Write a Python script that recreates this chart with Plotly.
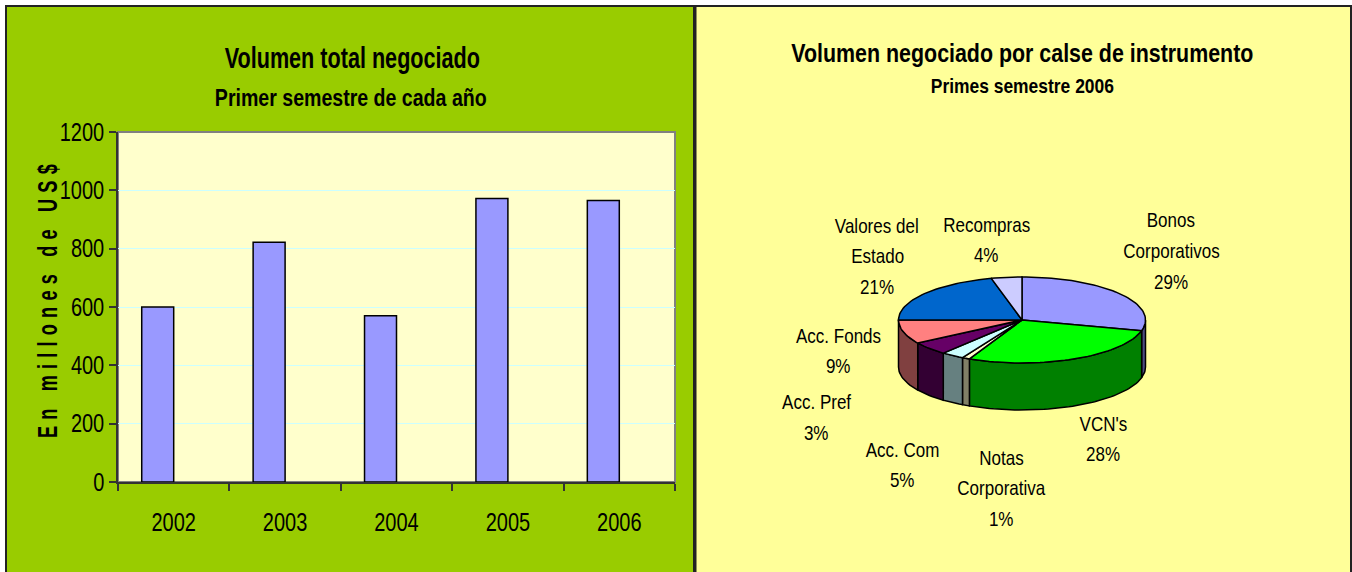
import math
import plotly.graph_objects as go

# ---- data ----
years = ["2002", "2003", "2004", "2005", "2006"]
volumes = [600, 822, 570, 972, 965]
y_ticks = [0, 200, 400, 600, 800, 1000, 1200]

slice_names = ["Bonos Corporativos", "VCN's", "Notas Corporativa", "Acc. Pref",
               "Acc. Com", "Acc. Fonds", "Valores del Estado", "Recompras"]
slice_shares = [29, 28, 1, 3, 5, 9, 21, 4]
slice_colors = ["#9999ff", "#00ff00", "#ffffcc", "#ccffff",
                "#660066", "#ff8080", "#0066cc", "#ccccff"]
side_colors = ["#4c4c80", "#008000", "#808066", "#668080",
               "#330033", "#804040", "#003366", "#666680"]
label_lines = [["Bonos", "Corporativos", "29%"], ["VCN's", "28%"],
               ["Notas", "Corporativa", "1%"], ["Acc. Pref", "3%"],
               ["Acc. Com", "5%"], ["Acc. Fonds", "9%"],
               ["Valores del", "Estado", "21%"], ["Recompras", "4%"]]

# ---- layout constants (pixels) ----
W, H = 1352, 572
FONT = "Liberation Sans, Arial, sans-serif"
label_pos = [(1171, [220, 250, 281]), (1103, [423, 453]), (1001, [457, 487, 518]),
             (816, [401, 432]), (902, [449, 479]), (838, [335, 365]),
             (877, [225, 255, 286]), (986, [224, 254])]
CX, CY, RX, RY, DEPTH = 1022, 320, 123.5, 43, 47


def px(x):
    return x / W


def py(y):
    return 1 - y / H


fig = go.Figure()
fig.add_trace(go.Bar(x=years, y=volumes, width=0.287, offset=-0.287,
                     marker=dict(color="#9999ff", line=dict(color="black", width=1.5)),
                     xaxis="x", yaxis="y", showlegend=False, hoverinfo="x+y"))


def pt(t, dy=0):
    a = math.radians(t)
    return CX + RX * math.sin(a), CY - RY * math.cos(a) + dy


def arc(a, b, dy=0):
    n = max(2, int(abs(b - a) / 2) + 2)
    return [pt(a + (b - a) * i / (n - 1), dy) for i in range(n)]


def poly(points, color):
    xs = [p[0] for p in points] + [points[0][0]]
    ys = [p[1] for p in points] + [points[0][1]]
    fig.add_trace(go.Scatter(x=xs, y=ys, mode="lines", fill="toself", fillcolor=color,
                             line=dict(color="black", width=1.5), xaxis="x2", yaxis="y2",
                             showlegend=False, hoverinfo="skip"))


total = sum(slice_shares)
start = 0.0
spans = []
for share in slice_shares:
    end = start + 360.0 * share / total
    spans.append((start, end))
    start = end

# visible front walls
for (a, b), col in zip(spans, side_colors):
    lo, hi = max(a, 90), min(b, 270)
    if hi > lo:
        poly(arc(lo, hi) + arc(hi, lo, DEPTH), col)
# top faces
for (a, b), col in zip(spans, slice_colors):
    poly([(CX, CY)] + arc(a, b), col)

shapes = [
    dict(type="rect", xref="paper", yref="paper", x0=px(6), x1=px(694), y0=py(H + 10), y1=py(6),
         fillcolor="#99cc00", line=dict(color="#222222", width=2), layer="below"),
    dict(type="rect", xref="paper", yref="paper", x0=px(695.5), x1=px(1351), y0=py(H + 10), y1=py(6),
         fillcolor="#ffff99", line=dict(color="#222222", width=2), layer="below"),
    dict(type="rect", xref="paper", yref="paper", x0=px(118), x1=px(675), y0=py(482), y1=py(132),
         fillcolor="#ffffcc", line=dict(color="#808080", width=2), layer="below"),
]


def text(s, x, y, size, bold=False, angle=0):
    return dict(text=s, xref="paper", yref="paper", textangle=angle,
                x=px(x), y=py(y), xanchor="center", yanchor="middle", showarrow=False,
                font=dict(family=FONT, size=size, color="black",
                          weight="bold" if bold else "normal"))


annotations = [
    text("Volumen total negociado", 352, 58, 29, True),
    text("Primer semestre de cada año", 351, 97, 24, True),
    text("Volumen negociado por calse de instrumento", 1023, 53, 25.5, True),
    text("Primes semestre 2006", 1023, 86, 21, True),
    text("En millones de US$", 47, 298, 28, True, -90),
]
for lines, (lx, ys) in zip(label_lines, label_pos):
    for line, ly in zip(lines, ys):
        annotations.append(text(line, lx, ly, 21))

fig.update_layout(
    width=W, height=H, margin=dict(l=0, r=0, t=0, b=0), autosize=False,
    paper_bgcolor="white", plot_bgcolor="rgba(0,0,0,0)",
    shapes=shapes, annotations=annotations, showlegend=False,
    xaxis=dict(domain=[px(118), px(675)], type="category", tickson="boundaries",
               automargin=False,
               ticks="outside", ticklen=7, tickcolor="#333333", tickwidth=1.5,
               showline=True, linecolor="#333333", linewidth=1.5, showgrid=False,
               ticklabelstandoff=17, tickfont=dict(family=FONT, size=25, color="black"),
               anchor="y"),
    yaxis=dict(domain=[py(482), py(132)], range=[0, 1200], tickvals=y_ticks,
               automargin=False,
               ticks="outside", ticklen=7, tickcolor="#333333", tickwidth=1.5,
               showline=True, linecolor="#333333", linewidth=1.5, showgrid=True,
               gridcolor="#ccffff", gridwidth=1, zeroline=False,
               ticklabelstandoff=0, tickfont=dict(family=FONT, size=25, color="black"),
               anchor="x"),
    xaxis2=dict(domain=[0, 1], range=[0, W], visible=False, anchor="y2", automargin=False),
    yaxis2=dict(domain=[0, 1], range=[H, 0], visible=False, anchor="x2", automargin=False),
)

post = """
document.body.style.margin='0';
document.documentElement.style.overflow='hidden';
function squeeze(t, r){
  t.setAttribute('textLength', t.getComputedTextLength()*r);
  t.setAttribute('lengthAdjust','spacingAndGlyphs');
}
var ratios={'Volumen total negociado':0.745,
            'Volumen negociado por calse de instrumento':0.839,
            'Primer semestre de cada año':0.815,
            'Primes semestre 2006':0.83};
document.querySelectorAll('.xtick text, .ytick text').forEach(function(t){squeeze(t,0.8);});
document.querySelectorAll('.annotation-text').forEach(function(t){
  var s=t.textContent;
  if(s==='En millones de US$'){
    t.style.letterSpacing='9.5px';
    t.setAttribute('textLength',280);
    t.setAttribute('lengthAdjust','spacingAndGlyphs');
    return;
  }
  squeeze(t,ratios[s]||0.81);
});
"""
fig.write_html("out.html", post_script=post, config=dict(displayModeBar=False))
